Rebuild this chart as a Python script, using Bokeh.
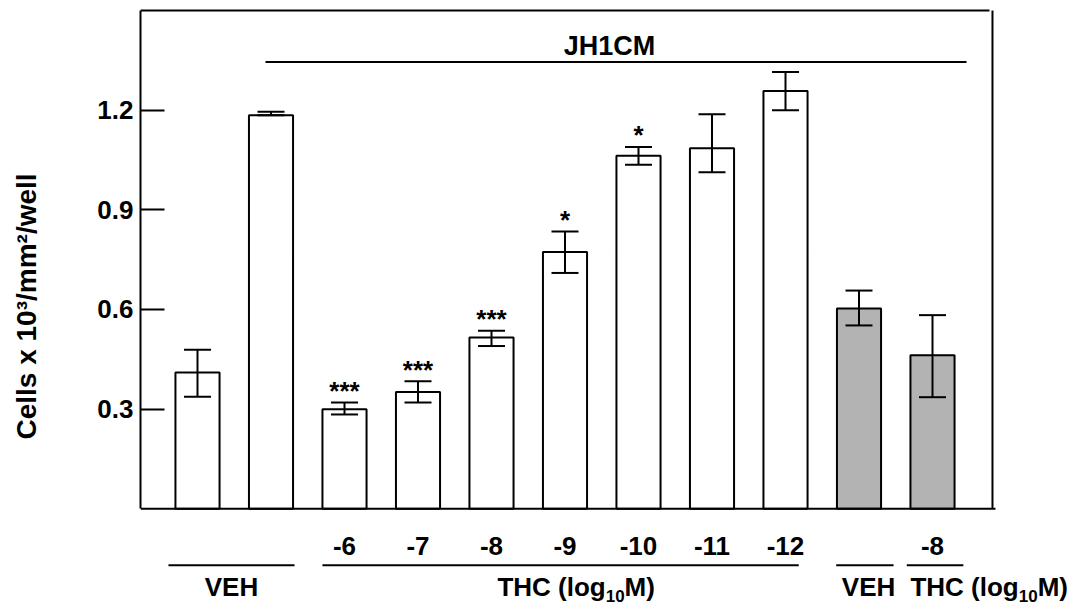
import math
from bokeh.plotting import figure
from bokeh.models import ColumnDataSource, Whisker, TeeHead, FixedTicker, Range1d, LinearAxis
from bokeh.core.properties import value
from bokeh.embed import file_html
from bokeh.resources import INLINE

# ---------------- data ----------------
positions = [1, 2, 3, 4, 5, 6, 7, 8, 9, 10, 11]
dose_labels = ["", "", "-6", "-7", "-8", "-9", "-10", "-11", "-12", "", "-8"]
means = [0.410, 1.185, 0.300, 0.352, 0.516, 0.773, 1.063, 1.085, 1.258, 0.603, 0.462]
err_up = [0.069, 0.010, 0.020, 0.032, 0.020, 0.062, 0.026, 0.103, 0.057, 0.054, 0.121]
err_down = [0.073, 0.000, 0.016, 0.032, 0.026, 0.063, 0.027, 0.072, 0.058, 0.051, 0.126]
stars = ["", "", "***", "***", "***", "*", "*", "", "", "", ""]
shaded = [False, False, False, False, False, False, False, False, False, True, True]
y_ticks = [0.3, 0.6, 0.9, 1.2]
y_label = "Cells x 10\u00b3/mm\u00b2/well"
top_label = "JH1CM"

FONT = "Liberation Sans"
GRAY = "#b3b3b3"
LW = 2

p = figure(width=1084, height=605,
           x_range=Range1d(0.2245, 13.068), y_range=Range1d(-0.291, 1.509),
           output_backend="svg", toolbar_location=None,
           x_axis_location=None, y_axis_location=None,
           min_border_left=140, min_border_right=0,
           min_border_top=7, min_border_bottom=0)
p.outline_line_color = None
p.background_fill_color = "white"
p.border_fill_color = "white"
p.grid.visible = False

yaxis = LinearAxis(ticker=FixedTicker(ticks=y_ticks), bounds=(0, 1.5),
                   axis_line_width=LW, axis_line_color="black",
                   major_tick_line_width=LW, major_tick_line_color="black",
                   major_tick_in=24, major_tick_out=0,
                   minor_tick_line_color=None,
                   major_label_text_font=FONT, major_label_text_font_style="bold",
                   major_label_text_font_size="26px", major_label_text_color="black",
                   major_label_standoff=7,
                   axis_label=y_label, axis_label_standoff=52,
                   axis_label_text_font=FONT, axis_label_text_font_style="bold",
                   axis_label_text_font_size="28px", axis_label_text_color="black")
p.add_layout(yaxis, "left")

fills = [GRAY if s else "white" for s in shaded]
src = ColumnDataSource(dict(
    x=positions, top=means, fill=fills,
    upper=[m + e for m, e in zip(means, err_up)],
    lower=[m - e for m, e in zip(means, err_down)],
))

p.vbar(x="x", top="top", bottom=0, width=0.6, source=src,
       fill_color="fill", line_color="black", line_width=LW)

wh = Whisker(source=src, base="x", upper="upper", lower="lower",
             line_color="black", line_width=LW, level="annotation",
             upper_head=TeeHead(size=27, line_color="black", line_width=LW),
             lower_head=TeeHead(size=27, line_color="black", line_width=LW))
p.add_layout(wh)

# frame lines
x0 = p.x_range.start
p.segment(x0=[x0, x0, positions[-1] + 0.816], y0=[0, 1.5, 0],
          x1=[positions[-1] + 0.857, positions[-1] + 0.775, positions[-1] + 0.816],
          y1=[0, 1.5, 1.5], line_color="black", line_width=LW)

TXT = dict(text_baseline="middle", text_font=value(FONT), text_font_style="bold",
           text_color="black")

# JH1CM bracket
p.segment(x0=[positions[1] - 0.075], y0=[1.345], x1=[positions[-1] + 0.463], y1=[1.345],
          line_color="black", line_width=LW)
p.text(x=[6.605], y=[1.393], text=[top_label], text_align="center",
       text_font_size="27px", **TXT)

# significance stars
st_x = [x for x, s in zip(positions, stars) if s]
st_y = [m + e + 0.035 for m, e, s in zip(means, err_up, stars) if s]
st_t = [s for s in stars if s]
p.text(x=st_x, y=st_y, text=st_t, text_align="center", text_font_size="26px", **TXT)

# dose labels under bars
dl_x = [x for x, d in zip(positions, dose_labels) if d]
dl_t = [d for d in dose_labels if d]
p.text(x=dl_x, y=[-0.111] * len(dl_x), text=dl_t, text_align="center",
       text_font_size="26px", **TXT)

# group lines
gx0 = [positions[0] - 0.395, positions[2] - 0.30, positions[9] - 0.31, positions[10] - 0.35]
gx1 = [positions[1] + 0.32, positions[8] + 0.18, positions[9] + 0.47, positions[10] + 0.42]
p.segment(x0=gx0, y0=[-0.170] * 4, x1=gx1, y1=[-0.170] * 4, line_color="black", line_width=LW)

# VEH labels
p.text(x=[(gx0[0] + gx1[0]) / 2, 10.13], y=[-0.236, -0.236], text=["VEH", "VEH"],
       text_align="center", text_font_size="26px", **TXT)

# THC (log10 M) labels, composed of main text + subscript
main_sz = 26
sub_sz = 17
w_main = 4.166 * main_sz
w_sub = 1.112 * sub_sz
thc_x = [5.08, 10.70]
for tx in thc_x:
    p.text(x=[tx, tx], y=[-0.236, -0.236], text=["THC (log", "M)"],
           x_offset=[0, w_main + w_sub], text_align="left",
           text_font_size=f"{main_sz}px", **TXT)
    p.text(x=[tx], y=[-0.262], text=["10"], x_offset=[w_main], text_align="left",
           text_font_size=f"{sub_sz}px", **TXT)

open("out.html", "w").write(file_html(p, INLINE))
